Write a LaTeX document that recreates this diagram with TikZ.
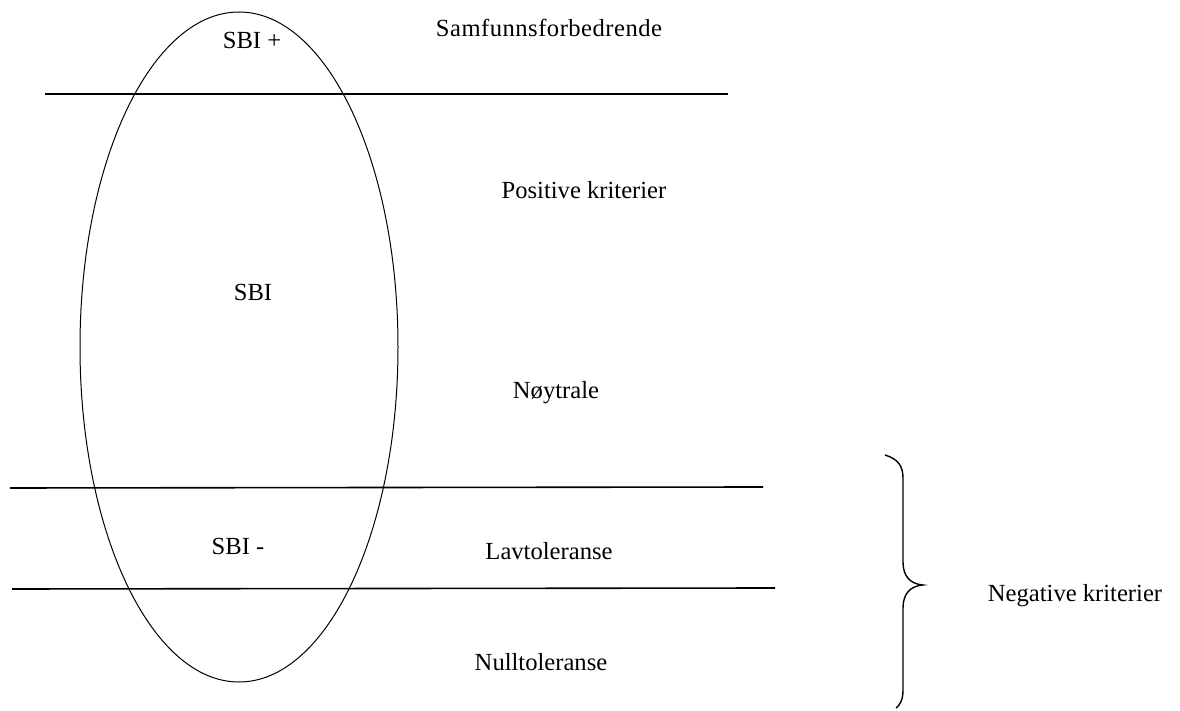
\documentclass[tikz,border=0pt]{standalone}
\usepackage{fontspec}
\setmainfont{Liberation Serif}
\begin{document}
\begin{tikzpicture}[x=0.5pt,y=-0.5pt,
  lbl/.style={inner sep=0pt,font=\fontsize{12.3}{14}\selectfont},
  hline/.style={line width=0.8pt},
  oval/.style={line width=0.5pt}]
\useasboundingbox (0,0) rectangle (1180,711);
\draw[oval] (239,347) ellipse [x radius=159, y radius=335];
\coordinate (l1a) at (45,94);  \coordinate (l1b) at (728,94);
\coordinate (l2a) at (10,488); \coordinate (l2b) at (763,487);
\coordinate (l3a) at (12,589); \coordinate (l3b) at (775,588);
\draw[hline] (l1a) -- (l1b);
\draw[hline] (l2a) -- (l2b);
\draw[hline] (l3a) -- (l3b);
\node[lbl] (sbip) at (252,40) {SBI +};
\node[lbl] (samf) at (549,28) {\addfontfeature{LetterSpace=2}Samfunnsforbedrende};
\node[lbl] (pos) at (584,190) {Positive kriterier};
\node[lbl] (sbi) at (253,292) {SBI};
\node[lbl] (noy) at (556,393) {Nøytrale};
\node[lbl] (sbim) at (238,546) {SBI -};
\node[lbl] (lav) at (549,551) {Lavtoleranse};
\node[lbl] (null) at (541,662) {Nulltoleranse};
\node[lbl] (neg) at (1075,596) {Negative kriterier};
\coordinate (bt) at (885,455);
\coordinate (bm) at (923,585);
\coordinate (bb) at (896,708);
\draw[line width=0.7pt] (bt) .. controls (898,459) and (903,466) .. (903,478)
  -- (903,562) .. controls (903,576) and (910,584) .. (bm)
  .. controls (910,586) and (903,594) .. (903,608)
  -- (903,690) .. controls (903,700) and (900,705) .. (bb);
\end{tikzpicture}
\end{document}
